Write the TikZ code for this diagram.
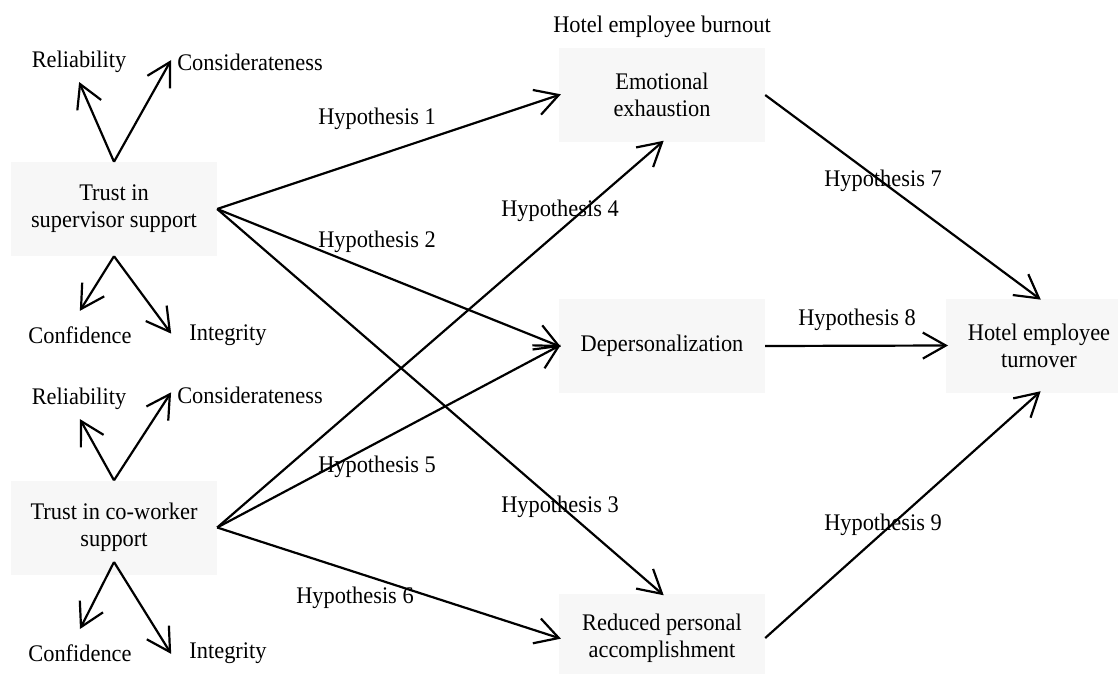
\documentclass[tikz,border=0pt]{standalone}
\usepackage{fontspec}
\setmainfont{Liberation Serif}[FakeStretch=0.94]
\usetikzlibrary{decorations.markings}
\definecolor{boxgray}{HTML}{F7F7F7}
\begin{document}
\begin{tikzpicture}[x=1pt,y=-1pt,
  box/.style={fill=boxgray, minimum width=206pt, minimum height=94pt, align=center, inner sep=0pt, font=\fontsize{23.8}{27}\selectfont},
  lbl/.style={inner sep=0pt, font=\fontsize{23.8}{27}\selectfont},
  arr/.style={line width=2.2pt, postaction={decorate},
    decoration={markings, mark=at position 1 with {\draw[line width=2.2pt, line join=miter, line cap=butt] (-23pt,13pt) -- (0pt,0pt) -- (-23pt,-13pt);}}}]
\useasboundingbox (0,0) rectangle (1118,673);
\fill[white] (0,0) rectangle (1118,673);
\clip (0,0) rectangle (1118,673);

% boxes
\node[box] (sup) at (114,209) {Trust in\\supervisor support};
\node[box] (cow) at (114,527.5) {Trust in co-worker\\support};
\node[box] (emo) at (662,95) {Emotional\\exhaustion};
\node[box] (dep) at (662,346) {Depersonalization};
\node[box, minimum height=88pt] (red) at (662,638) {Reduced personal\\accomplishment};
\node[box, minimum width=186pt] (turn) at (1039,345.5) {Hotel employee\\turnover};

\node[lbl] (burn) at (662,27) {Hotel employee burnout};

% dimension labels, supervisor
\node[lbl] (rel1) at (79,62) {Reliability};
\node[lbl] (con1) at (250,62) {Considerateness};
\node[lbl] (cnf1) at (80,335) {Confidence};
\node[lbl] (int1) at (228,335) {Integrity};
% dimension labels, co-worker
\node[lbl] (rel2) at (79,399) {Reliability};
\node[lbl] (con2) at (250,395) {Considerateness};
\node[lbl] (cnf2) at (80,653) {Confidence};
\node[lbl] (int2) at (228,653) {Integrity};

% arrow end points
\coordinate (trel1) at (80,84);
\coordinate (tcon1) at (170,62);
\coordinate (tcnf1) at (81,309);
\coordinate (tint1) at (170,332);
\coordinate (trel2) at (81,421);
\coordinate (tcon2) at (170,394);
\coordinate (cowb) at (114,562);
\coordinate (tcnf2) at (81,627);
\coordinate (tint2) at (170,652);

\draw[arr] (sup.north) -- (trel1);
\draw[arr] (sup.north) -- (tcon1);
\draw[arr] (sup.south) -- (tcnf1);
\draw[arr] (sup.south) -- (tint1);
\draw[arr] (cow.north) -- (trel2);
\draw[arr] (cow.north) -- (tcon2);
\draw[arr] (cowb) -- (tcnf2);
\draw[arr] (cowb) -- (tint2);

% hypotheses
\draw[arr] (sup.east) -- (emo.west);
\draw[arr] (sup.east) -- (dep.west);
\draw[arr] (sup.east) -- (red.north);
\draw[arr] (cow.east) -- (emo.south);
\draw[arr] (cow.east) -- (dep.west);
\draw[arr] (cow.east) -- (red.west);
\draw[arr] (emo.east) -- (turn.north);
\draw[arr] (dep.east) -- (turn.west);
\draw[arr] (red.east) -- (turn.south);

\node[lbl] (h1) at (377,119) {Hypothesis 1};
\node[lbl] (h2) at (377,242) {Hypothesis 2};
\node[lbl] (h3) at (560,507) {Hypothesis 3};
\node[lbl] (h4) at (560,211) {Hypothesis 4};
\node[lbl] (h5) at (377,467) {Hypothesis 5};
\node[lbl] (h6) at (355,598) {Hypothesis 6};
\node[lbl] (h7) at (883,181) {Hypothesis 7};
\node[lbl] (h8) at (857,320) {Hypothesis 8};
\node[lbl] (h9) at (883,525) {Hypothesis 9};
\end{tikzpicture}
\end{document}
